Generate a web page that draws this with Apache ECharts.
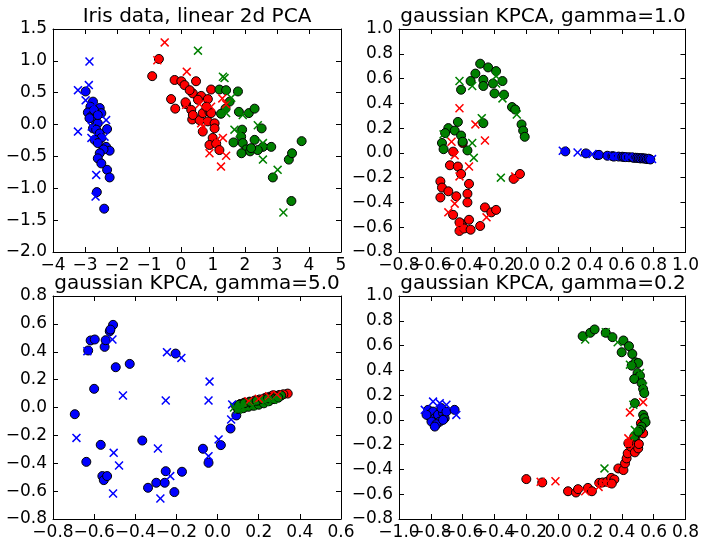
<!DOCTYPE html>
<html>
<head>
<meta charset="utf-8">
<script src="https://cdn.jsdelivr.net/npm/echarts@6/dist/echarts.min.js"></script>
<style>
  html, body { margin: 0; padding: 0; background: #fff; }
  #chart { width: 702px; height: 541px; }
</style>
</head>
<body>
<div id="chart"></div>
<script>
// ---- Panel titles ----
const titles = [
  'Iris data, linear 2d PCA',
  'gaussian KPCA, gamma=1.0',
  'gaussian KPCA, gamma=5.0',
  'gaussian KPCA, gamma=0.2'
];

// ---- Axis tick values per panel ----
const pcaXTicks = [-4, -3, -2, -1, 0, 1, 2, 3, 4, 5];
const pcaYTicks = [-2.0, -1.5, -1.0, -0.5, 0.0, 0.5, 1.0, 1.5];
const g10XTicks = [-0.8, -0.6, -0.4, -0.2, 0.0, 0.2, 0.4, 0.6, 0.8, 1.0];
const g10YTicks = [-0.8, -0.6, -0.4, -0.2, 0.0, 0.2, 0.4, 0.6, 0.8, 1.0];
const g50XTicks = [-0.8, -0.6, -0.4, -0.2, 0.0, 0.2, 0.4, 0.6];
const g50YTicks = [-0.8, -0.6, -0.4, -0.2, 0.0, 0.2, 0.4, 0.6, 0.8];
const g02XTicks = [-1.0, -0.8, -0.6, -0.4, -0.2, 0.0, 0.2, 0.4, 0.6, 0.8];
const g02YTicks = [-0.8, -0.6, -0.4, -0.2, 0.0, 0.2, 0.4, 0.6, 0.8, 1.0];

// ---- Linear PCA projection (dots = fitted samples, crosses = held-out samples) ----
const pcaSetosaDots = [[-2.98,0.52],[-2.75,0.36],[-2.83,0.28],[-2.91,0.19],[-2.80,0.13],[-2.65,0.20],[-2.54,0.26],[-2.49,0.18],[-2.70,0.07],[-2.60,0.02],[-2.75,-0.06],[-2.65,-0.08],[-2.54,-0.14],[-2.49,-0.21],[-2.70,-0.24],[-2.60,-0.29],[-2.34,-0.35],[-2.23,-0.41],[-2.42,-0.39],[-2.54,-0.45],[-2.60,-0.53],[-2.49,-0.61],[-2.31,-0.71],[-2.23,-0.83],[-2.63,-1.06],[-2.40,-1.32],[-2.31,-0.07],[-2.86,0.10],[-2.72,0.23],[-2.60,0.15]];
const pcaSetosaCrosses = [[-2.86,0.99],[-2.88,0.62],[-3.22,0.54],[-2.98,0.38],[-3.22,-0.11],[-2.80,-0.21],[-2.34,0.07],[-2.39,-0.19],[-2.65,-0.79],[-2.67,-1.13],[-2.75,0.28],[-2.79,-0.03]];
const pcaVersicolorDots = [[-0.69,1.03],[-0.90,0.76],[-0.20,0.70],[0.01,0.68],[0.11,0.62],[0.47,0.68],[-0.31,0.40],[-0.18,0.25],[0.16,0.32],[0.32,0.23],[0.35,0.08],[0.58,0.07],[0.14,0.35],[0.37,0.49],[0.63,0.45],[0.84,0.40],[0.94,0.55],[0.68,0.18],[0.89,0.20],[0.84,0.05],[1.05,0.02],[0.94,0.18],[0.68,-0.11],[1.05,-0.06],[0.99,-0.21],[0.89,-0.32],[1.10,-0.30],[1.20,-0.40],[0.27,0.54],[0.53,0.39],[0.79,0.28],[0.37,0.15]];
const pcaVersicolorCrosses = [[-0.51,1.29],[-0.74,1.01],[0.18,0.83],[0.16,0.31],[0.58,0.32],[1.29,0.41],[1.41,0.32],[0.63,0.02],[0.68,-0.03],[1.10,-0.25],[1.31,-0.21],[0.89,-0.45],[1.41,-0.49],[1.25,-0.66],[0.94,0.28]];
const pcaVirginicaDots = [[1.20,0.55],[1.41,0.54],[1.78,0.52],[1.52,0.36],[1.39,0.25],[1.25,0.17],[1.81,0.20],[2.12,0.18],[2.30,0.25],[2.52,-0.06],[1.91,-0.08],[1.88,-0.19],[1.64,-0.28],[1.93,-0.29],[2.04,-0.39],[2.30,-0.24],[2.16,-0.42],[2.56,-0.35],[2.82,-0.35],[1.89,-0.45],[2.40,-0.40],[2.87,-0.83],[3.37,-0.55],[3.47,-0.45],[3.77,-0.26],[3.45,-1.20],[2.19,-0.37]];
const pcaVirginicaCrosses = [[0.53,1.16],[1.31,0.75],[1.36,0.73],[1.41,0.18],[1.67,-0.08],[1.93,0.15],[2.40,-0.01],[2.56,-0.29],[2.56,-0.55],[3.02,-0.71],[3.20,-1.38],[1.83,-0.14],[1.57,0.42]];

// ---- Gaussian kernel PCA, gamma = 1.0 ----
const g10SetosaDots = [[0.245,0.012],[0.374,-0.004],[0.446,-0.018],[0.457,-0.016],[0.509,-0.023],[0.541,-0.026],[0.550,-0.030],[0.580,-0.030],[0.603,-0.031],[0.613,-0.033],[0.624,-0.034],[0.645,-0.035],[0.665,-0.036],[0.675,-0.040],[0.686,-0.039],[0.697,-0.040],[0.707,-0.042],[0.717,-0.045],[0.728,-0.042],[0.738,-0.046],[0.748,-0.045],[0.758,-0.050],[0.769,-0.047],[0.779,-0.053]];
const g10SetosaCrosses = [[0.229,0.017],[0.322,0.003],[0.416,-0.009],[0.541,-0.026],[0.644,-0.034],[0.790,-0.050]];
const g10VersicolorDots = [[-0.46,0.01],[-0.40,0.08],[-0.48,-0.10],[-0.43,-0.11],[-0.41,-0.17],[-0.36,-0.25],[-0.37,-0.33],[-0.37,-0.40],[-0.54,-0.23],[-0.53,-0.28],[-0.54,-0.36],[-0.49,-0.31],[-0.44,-0.35],[-0.46,-0.50],[-0.41,-0.57],[-0.42,-0.63],[-0.39,-0.61],[-0.36,-0.54],[-0.35,-0.62],[-0.29,-0.59],[-0.26,-0.44],[-0.22,-0.48],[-0.19,-0.46],[-0.08,-0.21],[-0.04,-0.17],[-0.42,-0.56]];
const g10VersicolorCrosses = [[-0.42,0.36],[-0.32,0.23],[-0.26,0.10],[-0.47,0.09],[-0.45,-0.02],[-0.36,-0.11],[-0.42,-0.19],[-0.45,-0.41],[-0.49,-0.48],[-0.42,-0.61],[-0.25,-0.52],[-0.07,-0.19]];
const g10VirginicaDots = [[-0.29,0.72],[-0.24,0.69],[-0.32,0.64],[-0.27,0.59],[-0.27,0.54],[-0.21,0.56],[-0.19,0.66],[-0.15,0.58],[-0.20,0.48],[-0.14,0.47],[-0.09,0.37],[-0.07,0.35],[-0.03,0.23],[-0.02,0.18],[-0.01,0.13],[-0.41,0.51],[-0.35,0.58],[-0.27,0.24],[-0.43,0.25],[-0.49,0.20],[-0.51,0.16],[-0.45,0.18],[-0.41,0.14],[-0.53,0.08],[-0.52,0.03],[-0.37,0.02],[-0.40,0.09]];
const g10VirginicaCrosses = [[-0.42,0.58],[-0.34,0.54],[-0.19,0.56],[-0.15,0.44],[-0.06,0.31],[-0.28,0.28],[-0.52,0.15],[-0.34,0.08],[-0.33,-0.04],[-0.16,-0.20],[-0.19,0.62]];

// ---- Gaussian kernel PCA, gamma = 5.0 ----
const g50SetosaDots = [[-0.694,-0.048],[-0.638,-0.390],[-0.600,0.134],[-0.568,-0.268],[-0.560,-0.492],[-0.553,-0.521],[-0.537,-0.492],[-0.629,0.409],[-0.617,0.481],[-0.597,0.488],[-0.549,0.435],[-0.544,0.483],[-0.524,0.547],[-0.508,0.593],[-0.521,0.559],[-0.495,0.289],[-0.427,0.313],[-0.366,-0.237],[-0.338,-0.576],[-0.298,-0.540],[-0.257,-0.540],[-0.252,-0.457],[-0.210,-0.607],[-0.173,-0.461],[-0.204,0.387],[-0.071,-0.296],[-0.044,-0.397],[0.016,-0.270],[0.063,-0.151],[0.091,-0.057]];
const g50SetosaCrosses = [[-0.686,-0.218],[-0.633,0.404],[-0.511,0.488],[-0.505,-0.325],[-0.479,-0.416],[-0.508,-0.617],[-0.460,0.086],[-0.290,-0.294],[-0.278,-0.653],[-0.246,0.397],[-0.176,0.356],[-0.252,0.050],[-0.230,-0.492],[-0.039,0.186],[-0.044,0.050],[0.005,-0.229],[-0.044,-0.349],[0.066,-0.086],[0.071,0.022]];
const g50VersicolorDots = [[0.341,0.100],[0.320,0.095],[0.300,0.090],[0.280,0.085],[0.255,0.078],[0.230,0.068],[0.205,0.058],[0.180,0.050],[0.155,0.042],[0.130,0.035],[0.110,0.025],[0.270,0.088],[0.240,0.072],[0.195,0.040]];
const g50VersicolorCrosses = [[0.200,0.062],[0.250,0.080],[0.290,0.092],[0.150,0.045]];
const g50VirginicaDots = [[0.090,0.009],[0.114,0.014],[0.139,0.022],[0.163,0.029],[0.187,0.034],[0.212,0.045],[0.236,0.052],[0.260,0.069],[0.284,0.077],[0.309,0.086],[0.100,-0.010],[0.125,-0.005],[0.150,0.005],[0.175,0.012],[0.200,0.020],[0.225,0.030],[0.250,0.045],[0.275,0.060],[0.295,0.070],[0.105,0.020],[0.130,0.030],[0.160,0.040],[0.190,0.048],[0.220,0.058],[0.245,0.065]];
const g50VirginicaCrosses = [[0.080,0.000],[0.120,0.005],[0.170,0.010],[0.230,0.040],[0.270,0.055],[0.100,-0.015]];

// ---- Gaussian kernel PCA, gamma = 0.2 ----
const g02SetosaDots = [[-0.817,0.081],[-0.807,0.027],[-0.786,0.067],[-0.775,0.014],[-0.755,0.041],[-0.744,-0.014],[-0.723,0.054],[-0.734,0.095],[-0.713,0.014],[-0.796,-0.014],[-0.765,-0.035],[-0.827,0.041],[-0.702,0.067],[-0.723,0.000],[-0.775,-0.054],[-0.651,0.081]];
const g02SetosaCrosses = [[-0.786,0.148],[-0.744,0.135],[-0.702,0.122],[-0.640,0.040],[-0.838,0.081]];
const g02VersicolorDots = [[-0.200,-0.478],[-0.100,-0.505],[0.062,-0.576],[0.112,-0.586],[0.125,-0.559],[0.187,-0.549],[0.212,-0.576],[0.258,-0.508],[0.279,-0.505],[0.306,-0.500],[0.333,-0.468],[0.353,-0.481],[0.378,-0.392],[0.410,-0.405],[0.420,-0.351],[0.430,-0.311],[0.437,-0.270],[0.457,-0.216],[0.482,-0.262],[0.486,-0.195],[0.503,-0.230],[0.441,-0.189],[0.486,-0.135],[0.520,-0.027],[0.534,-0.108],[0.507,-0.195],[0.337,-0.514]];
const g02VersicolorCrosses = [[-0.110,-0.500],[-0.017,-0.495],[0.170,-0.576],[0.254,-0.541],[0.295,-0.514],[0.451,0.059],[0.534,0.143],[0.441,-0.149],[0.445,-0.189]];
const g02VirginicaDots = [[0.154,0.676],[0.202,0.703],[0.229,0.730],[0.299,0.703],[0.341,0.668],[0.410,0.641],[0.445,0.595],[0.399,0.546],[0.466,0.532],[0.486,0.465],[0.503,0.459],[0.462,0.438],[0.499,0.378],[0.514,0.357],[0.478,0.330],[0.524,0.297],[0.534,0.249],[0.541,0.216],[0.482,0.135],[0.534,0.041],[0.541,0.014],[0.549,-0.019],[0.524,-0.054],[0.514,-0.081],[0.478,-0.135],[0.503,-0.095]];
const g02VirginicaCrosses = [[0.170,0.649],[0.299,0.708],[0.374,0.627],[0.451,0.446],[0.514,0.378],[0.534,0.270],[0.472,0.122],[0.482,-0.081],[0.291,-0.392]];

// ---- Layout & styling ----
const FONT = 'DejaVu Sans';
const CLASS_COLORS = ['#0000ff', '#ff0000', '#008000'];
// an "x" marker outline, filled
const CROSS = 'path://M1.2,0L5,3.8L8.8,0L10,1.2L6.2,5L10,8.8L8.8,10L5,6.2L1.2,10L0,8.8L3.8,5L0,1.2Z';

const panels = [
  { grid: { left: 53, top: 29, width: 288, height: 223 }, xTicks: pcaXTicks, yTicks: pcaYTicks, xDigits: 0, yDigits: 1,
    dots: [pcaSetosaDots, pcaVersicolorDots, pcaVirginicaDots], crosses: [pcaSetosaCrosses, pcaVersicolorCrosses, pcaVirginicaCrosses] },
  { grid: { left: 399, top: 29, width: 288, height: 223 }, xTicks: g10XTicks, yTicks: g10YTicks, xDigits: 1, yDigits: 1,
    dots: [g10SetosaDots, g10VersicolorDots, g10VirginicaDots], crosses: [g10SetosaCrosses, g10VersicolorCrosses, g10VirginicaCrosses] },
  { grid: { left: 53, top: 296, width: 288, height: 223 }, xTicks: g50XTicks, yTicks: g50YTicks, xDigits: 1, yDigits: 1,
    dots: [g50SetosaDots, g50VersicolorDots, g50VirginicaDots], crosses: [g50SetosaCrosses, g50VersicolorCrosses, g50VirginicaCrosses] },
  { grid: { left: 399, top: 296, width: 288, height: 223 }, xTicks: g02XTicks, yTicks: g02YTicks, xDigits: 1, yDigits: 1,
    dots: [g02SetosaDots, g02VersicolorDots, g02VirginicaDots], crosses: [g02SetosaCrosses, g02VersicolorCrosses, g02VirginicaCrosses] }
];

// label text with a true minus sign; 'parity' keeps only every other tick (null keeps all)
function tickFormatter(ticks, digits, parity) {
  const min = ticks[0], step = ticks[1] - ticks[0];
  return function (v) {
    if (Math.abs(v) < 1e-9) v = 0;
    const k = Math.round((v - min) / step);
    if (parity !== null && k % 2 !== parity) return '';
    return v.toFixed(digits).replace('-', '\u2212');
  };
}

function baseAxis(idx, ticks) {
  return {
    type: 'value', gridIndex: idx,
    min: ticks[0], max: ticks[ticks.length - 1],
    interval: Math.round((ticks[1] - ticks[0]) * 1000) / 1000,
    axisLine: { show: true, onZero: false, lineStyle: { color: '#000', width: 1 } },
    axisTick: { show: true, inside: true, length: 5, lineStyle: { color: '#000', width: 1 } },
    splitLine: { show: false }
  };
}

function labelStyle(margin, formatter) {
  return {
    show: true, interval: 0, showMinLabel: true, showMaxLabel: true, hideOverlap: false,
    margin: margin, color: '#000', fontFamily: FONT, fontSize: 17, formatter: formatter
  };
}

// x: two stacked bottom axes (even / odd labels, so crowded labels all stay) + a top mirror
function xAxesFor(idx, ticks, digits) {
  const even = Object.assign(baseAxis(idx, ticks), {
    position: 'bottom', axisLabel: labelStyle(5, tickFormatter(ticks, digits, 0))
  });
  const odd = Object.assign(baseAxis(idx, ticks), {
    position: 'bottom', axisLabel: labelStyle(5, tickFormatter(ticks, digits, 1))
  });
  odd.axisLine = { show: false, onZero: false };
  odd.axisTick = { show: false };
  const top = Object.assign(baseAxis(idx, ticks), { position: 'top', axisLabel: { show: false } });
  return [even, odd, top];
}

// y: left axis with labels + right mirror
function yAxesFor(idx, ticks, digits) {
  const left = Object.assign(baseAxis(idx, ticks), {
    position: 'left', axisLabel: labelStyle(6, tickFormatter(ticks, digits, null))
  });
  const right = Object.assign(baseAxis(idx, ticks), { position: 'right', axisLabel: { show: false } });
  return [left, right];
}

const grids = [], xAxes = [], yAxes = [], series = [], graphics = [];
panels.forEach(function (p, i) {
  grids.push(Object.assign({ containLabel: false }, p.grid));
  const xi = xAxes.length, yi = yAxes.length;
  xAxesFor(i, p.xTicks, p.xDigits).forEach(a => xAxes.push(a));
  yAxesFor(i, p.yTicks, p.yDigits).forEach(a => yAxes.push(a));
  p.dots.forEach(function (d, c) {
    series.push({
      type: 'scatter', xAxisIndex: xi, yAxisIndex: yi, data: d,
      symbol: 'circle', symbolSize: 9, silent: true,
      itemStyle: { color: CLASS_COLORS[c], borderColor: '#000', borderWidth: 1, opacity: 1 }
    });
  });
  p.crosses.forEach(function (d, c) {
    series.push({
      type: 'scatter', xAxisIndex: xi, yAxisIndex: yi, data: d,
      symbol: CROSS, symbolSize: 9, silent: true,
      itemStyle: { color: CLASS_COLORS[c], borderWidth: 0, opacity: 1 }
    });
  });
  graphics.push({
    type: 'text', x: p.grid.left + p.grid.width / 2, y: p.grid.top - 12.5,
    style: { text: titles[i], fill: '#000', font: '20px "DejaVu Sans"', align: 'center', verticalAlign: 'middle' }
  });
});

const chart = echarts.init(document.getElementById('chart'), null, { renderer: 'canvas' });
chart.setOption({
  animation: false,
  backgroundColor: '#ffffff',
  grid: grids,
  xAxis: xAxes,
  yAxis: yAxes,
  series: series,
  graphic: graphics
});
</script>
</body>
</html>
